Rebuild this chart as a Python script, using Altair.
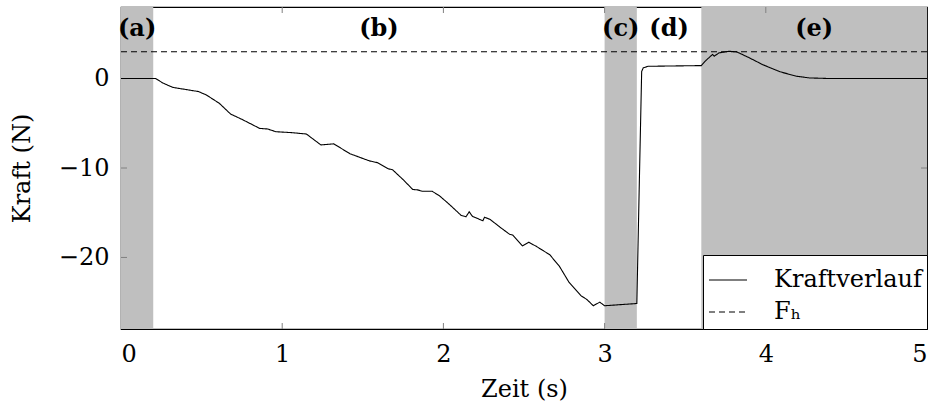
import altair as alt
import pandas as pd

# Force curve (Zeit in s, Kraft in N)
zeit = [0, 0.2, 0.215, 0.26, 0.32, 0.42, 0.48, 0.53, 0.61, 0.68, 0.75, 0.86, 0.91, 0.96,
        1.06, 1.15, 1.24, 1.32, 1.42, 1.54, 1.59, 1.66, 1.685, 1.75, 1.81, 1.84, 1.87,
        1.93, 1.975, 2.02, 2.06, 2.11, 2.14, 2.16, 2.18, 2.245, 2.255, 2.29, 2.35, 2.41,
        2.43, 2.49, 2.53, 2.58, 2.66, 2.72, 2.78, 2.82, 2.855, 2.89, 2.93, 2.97, 3.0,
        3.2, 3.215, 3.23, 3.24, 3.27, 3.6, 3.63, 3.67, 3.68, 3.71, 3.77, 3.82, 3.9,
        3.98, 4.09, 4.19, 4.27, 4.4, 5.0]
kraft = [0, 0, 0, -0.5, -0.98, -1.28, -1.45, -1.84, -2.77, -3.97, -4.56, -5.57, -5.64,
         -5.94, -6.05, -6.2, -7.42, -7.3, -8.4, -9.2, -9.4, -10.1, -10.2, -11.3, -12.4,
         -12.45, -12.6, -12.6, -13.1, -13.8, -14.45, -15.3, -15.45, -14.9, -15.4, -15.9,
         -15.5, -15.75, -16.6, -17.4, -17.5, -18.7, -18.3, -18.8, -19.7, -21.0, -22.8,
         -23.6, -24.3, -24.7, -25.4, -25.0, -25.4, -25.15, -12, 0.8, 1.2, 1.37, 1.45,
         2.05, 2.7, 2.5, 2.87, 3.05, 2.98, 2.3, 1.56, 0.75, 0.26, 0.07, 0.0, 0.0]

# Threshold force F_h
fh_value = 3.0
x_min, x_max = 0, 5
y_min, y_max = -28, 8

# Shaded phases
phase_start = [0.0, 3.0, 3.6]
phase_end = [0.2, 3.2, 5.0]

# Phase labels
phase_labels = ["(a)", "(b)", "(c)", "(d)", "(e)"]
phase_label_x = [0.1, 1.6, 3.1, 3.4, 4.3]
phase_label_y = 5.5

x_ticks = [0, 1, 2, 3, 4, 5]
y_ticks = [-20, -10, 0]

series_names = ["Kraftverlauf", "Fₕ"]

FONT = "DejaVu Serif"
FS = 24
W, H = 806, 322

line_df = pd.DataFrame({"Zeit": zeit, "Kraft": kraft, "series": series_names[0], "ord": range(len(zeit))})
fh_df = pd.DataFrame({"Zeit": [x_min, x_max], "Kraft": [fh_value, fh_value], "series": series_names[1], "ord": [0, 1]})
all_lines = pd.concat([line_df, fh_df], ignore_index=True)

xs = alt.Scale(domain=[x_min, x_max], nice=False, zero=False)
ys = alt.Scale(domain=[y_min, y_max], nice=False, zero=False)

phase_df = pd.DataFrame({"x0": phase_start, "x1": phase_end, "y0": y_min, "y1": y_max})
rects = alt.Chart(phase_df).mark_rect(color="#bfbfbf").encode(
    x=alt.X("x0:Q", scale=xs, axis=alt.Axis(values=x_ticks, format="d", title="Zeit (s)", grid=False,
                                             tickSize=0, domain=False, labelPadding=13,
                                             titlePadding=11)),
    x2="x1:Q",
    y=alt.Y("y0:Q", scale=ys, axis=alt.Axis(values=y_ticks, format="d", title="Kraft (N)", grid=False,
                                             tickSize=0, domain=False, labelPadding=12,
                                             titlePadding=24)),
    y2="y1:Q",
)

lines = alt.Chart(all_lines).mark_line(color="black", strokeWidth=1.1).encode(
    x=alt.X("Zeit:Q", scale=xs),
    y=alt.Y("Kraft:Q", scale=ys),
    order="ord:Q",
    strokeDash=alt.StrokeDash(
        "series:N",
        scale=alt.Scale(domain=series_names, range=[[1, 0], [6, 4]]),
        legend=alt.Legend(title=None, orient="bottom-right", offset=0, fillColor="white",
                          strokeColor="black", padding=5, symbolType="stroke",
                          symbolSize=1444, symbolStrokeWidth=1.1, symbolStrokeColor="black",
                          labelFont=FONT, labelFontSize=FS, labelColor="black",
                          labelOffset=26, rowPadding=0, cornerRadius=0),
    ),
)

xt_df = pd.DataFrame({"v": x_ticks[1:-1]})
xticks_bottom = alt.Chart(xt_df).mark_rule(color="#808080", strokeWidth=1).encode(
    x=alt.X("v:Q", scale=xs), y=alt.value(H), y2=alt.value(H - 6))
xticks_top = alt.Chart(xt_df).mark_rule(color="#808080", strokeWidth=1).encode(
    x=alt.X("v:Q", scale=xs), y=alt.value(0), y2=alt.value(6))
yt_df = pd.DataFrame({"v": y_ticks})
yticks_left = alt.Chart(yt_df).mark_rule(color="#808080", strokeWidth=1).encode(
    y=alt.Y("v:Q", scale=ys), x=alt.value(0), x2=alt.value(6))
yticks_right = alt.Chart(yt_df).mark_rule(color="#808080", strokeWidth=1).encode(
    y=alt.Y("v:Q", scale=ys), x=alt.value(W), x2=alt.value(W - 6))

lab_df = pd.DataFrame({"x": phase_label_x, "y": phase_label_y, "t": phase_labels})
labels = alt.Chart(lab_df).mark_text(font=FONT, fontSize=FS, fontWeight="bold", color="black").encode(
    x=alt.X("x:Q", scale=xs), y=alt.Y("y:Q", scale=ys), text="t:N")

chart = alt.layer(rects, xticks_bottom, xticks_top, yticks_left, yticks_right, lines, labels).properties(
    width=W, height=H,
    padding={"left": 121, "top": 7, "right": 8, "bottom": 80},
    autosize=alt.AutoSizeParams(type="none"),
).configure_view(stroke="black", strokeWidth=1.2).configure_axis(
    labelFont=FONT, labelFontSize=FS, labelColor="black",
    titleFont=FONT, titleFontSize=FS, titleColor="black", titleFontWeight="normal",
)

chart.save("out.html", embed_options={"renderer": "svg", "actions": False})
